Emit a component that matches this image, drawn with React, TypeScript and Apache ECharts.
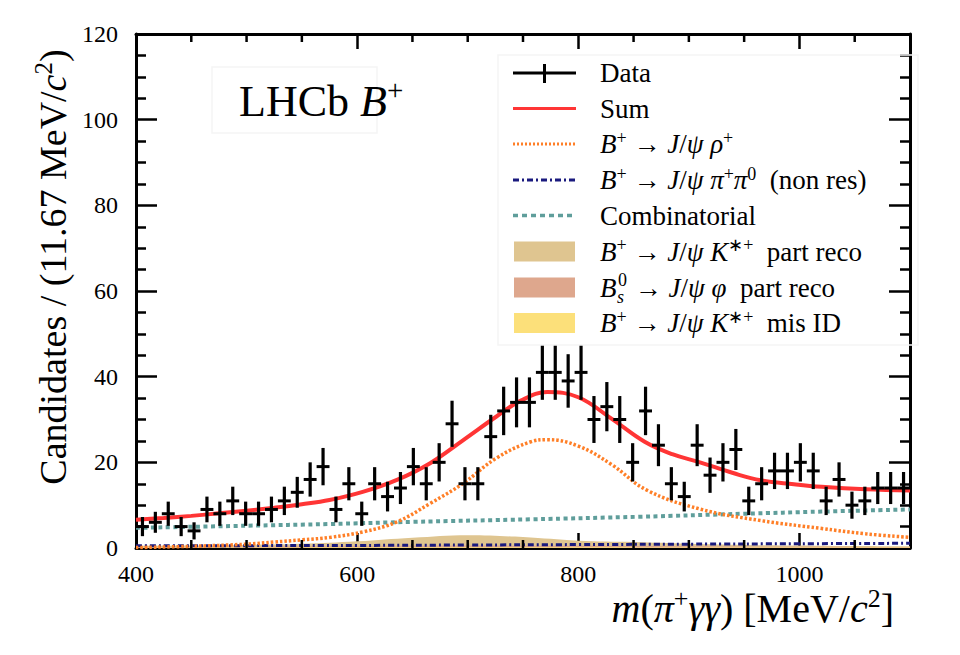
import { useEffect, useRef } from "react";
import * as echarts from "echarts";

// ---------------- data ----------------
const MASS_MIN = 400;
const MASS_MAX = 1100;
const N_BINS = 60;
const BIN_W = (MASS_MAX - MASS_MIN) / N_BINS; // 11.67 MeV
const Y_MIN = 0;
const Y_MAX = 120;

const X_MINOR_TICKS = [450, 500, 550, 650, 700, 750, 850, 900, 950, 1050];

const counts = [
  5, 6, 8, 5, 4, 9, 8, 11, 8, 8, 9, 11, 13, 16, 19, 9, 15, 8, 15, 12,
  14, 19, 15, 20, 29, 15, 15, 26, 32, 34, 34, 41, 41, 39, 41, 30, 33, 30, 20, 32,
  24, 15, 12, 24, 17, 20, 23, 11, 15, 18, 18, 20, 18, 11, 16, 10, 11, 14, 14, 14,
];

const sumCurve = [
  [400, 6.6], [425, 7.0], [450, 7.5], [475, 8.1], [500, 8.7], [525, 9.4], [550, 10.2],
  [575, 11.2], [605, 13.1], [636, 15.9], [666, 19.8], [696, 25.2], [726, 30.7],
  [748, 34.4], [772, 36.4], [800, 35.2], [830, 30.2], [860, 24.8], [885, 21.9],
  [910, 20.0], [940, 17.5], [965, 15.8], [995, 14.9], [1020, 14.3], [1060, 13.7], [1100, 13.4],
];

const rhoCurve = [
  [400, 0.1], [450, 0.4], [500, 0.9], [525, 1.4], [550, 1.9], [576, 2.5], [606, 3.8],
  [636, 6.1], [666, 10.4], [696, 15.1], [726, 21.0], [757, 24.8], [772, 25.3],
  [800, 23.8], [830, 19.5], [862, 13.5], [910, 9.1], [965, 6.4], [1019, 4.6],
  [1060, 3.3], [1100, 2.5],
];

const nonResCurve = [
  [400, 0.5], [500, 0.55], [600, 0.6], [700, 0.7], [800, 0.8], [900, 0.9], [1000, 1.0], [1100, 1.1],
];

const combCurve = [
  [400, 4.7], [500, 5.2], [575, 5.6], [650, 6.1], [757, 6.7], [856, 7.3], [950, 8.0],
  [1020, 8.5], [1100, 9.0],
];

// cumulative tops of the filled background components
const FILL_MASS = [400, 450, 500, 550, 600, 650, 700, 750, 800, 850, 900, 950, 1000, 1050, 1100];
const kstPartTop = [0.5, 0.57, 0.72, 0.97, 1.55, 2.4, 3.0, 2.55, 1.7, 1.4, 1.0, 0.72, 0.6, 0.46, 0.4];
const bsPartTop = [0.3, 0.32, 0.37, 0.42, 0.45, 0.5, 0.56, 0.53, 0.5, 0.44, 0.38, 0.32, 0.29, 0.26, 0.25];
const misIdTop = [0.1, 0.1, 0.12, 0.14, 0.15, 0.15, 0.16, 0.15, 0.15, 0.14, 0.13, 0.12, 0.11, 0.1, 0.1];

// ---------------- styles ----------------
const SERIF = "Liberation Serif";
const C_RED = "#ff3535";
const C_ORANGE = "#ff7f27";
const C_NAVY = "#1a1a7e";
const C_TEAL = "#5f9e9b";
const C_TAN = "#dfc590";
const C_SALMON = "#dea78d";
const C_YELLOW = "#fce07a";

function richSet(size: number) {
  const sup = Math.round(size * 0.66);
  const lh = Math.round(size * 1.15);
  return {
    r: { fontFamily: SERIF, fontSize: size, lineHeight: lh, color: "#000" },
    i: { fontFamily: SERIF, fontSize: size, lineHeight: lh, fontStyle: "italic", color: "#000" },
    sup: { fontFamily: SERIF, fontSize: sup, lineHeight: sup, verticalAlign: "top", color: "#000" },
  };
}

const LEG_ROWS = [73, 108.5, 144, 180, 215.5, 251.5, 287.5, 323];
const LEG_TEXTS = [
  "{r|Data}",
  "{r|Sum}",
  "{i|B}{sup|+}{r| → }{i|J}{r|/}{i|ψ ρ}{sup|+}",
  "{i|B}{sup|+}{r| → }{i|J}{r|/}{i|ψ π}{sup|+}{i|π}{sup|0}{r|  (non res)}",
  "{r|Combinatorial}",
  "{i|B}{sup|+}{r| → }{i|J}{r|/}{i|ψ K}{sup|∗+}{r|  part reco}",
  "",
  "{i|B}{sup|+}{r| → }{i|J}{r|/}{i|ψ K}{sup|∗+}{r|  mis ID}",
];

export default function App() {
  const ref = useRef<HTMLDivElement>(null);

  useEffect(() => {
    if (!ref.current) return;
    const chart = echarts.init(ref.current, undefined, { renderer: "svg" });

    const dataPoints = counts.map((c, i) => [MASS_MIN + (i + 0.5) * BIN_W, c, Math.sqrt(c)]);
    const legRich = richSet(27);
    const Z = 100;

    const legendGraphics: any[] = [
      { type: "rect", z: Z, shape: { x: 498, y: 55, width: 420, height: 290 }, style: { fill: "none", stroke: "#f5f5f5", lineWidth: 1.5 }, silent: true },
      { type: "rect", z: Z, shape: { x: 212, y: 67, width: 165, height: 66 }, style: { fill: "none", stroke: "#f5f5f5", lineWidth: 1.5 }, silent: true },
      { type: "line", z: Z, shape: { x1: 513, y1: LEG_ROWS[0], x2: 576, y2: LEG_ROWS[0] }, style: { stroke: "#000", lineWidth: 3 } },
      { type: "line", z: Z, shape: { x1: 544.5, y1: LEG_ROWS[0] - 9, x2: 544.5, y2: LEG_ROWS[0] + 10 }, style: { stroke: "#000", lineWidth: 3 } },
      { type: "line", z: Z, shape: { x1: 513, y1: LEG_ROWS[1], x2: 576, y2: LEG_ROWS[1] }, style: { stroke: C_RED, lineWidth: 3 } },
      { type: "line", z: Z, shape: { x1: 513, y1: LEG_ROWS[2], x2: 576, y2: LEG_ROWS[2] }, style: { stroke: C_ORANGE, lineWidth: 3, lineDash: [2, 2] } },
      { type: "line", z: Z, shape: { x1: 513, y1: LEG_ROWS[3], x2: 576, y2: LEG_ROWS[3] }, style: { stroke: C_NAVY, lineWidth: 3, lineDash: [6, 3, 2, 3] } },
      { type: "line", z: Z, shape: { x1: 513, y1: LEG_ROWS[4], x2: 576, y2: LEG_ROWS[4] }, style: { stroke: C_TEAL, lineWidth: 3.5, lineDash: [5, 4] } },
      { type: "rect", z: Z, shape: { x: 514, y: LEG_ROWS[5] - 10, width: 61, height: 20 }, style: { fill: C_TAN } },
      { type: "rect", z: Z, shape: { x: 514, y: LEG_ROWS[6] - 10, width: 61, height: 20 }, style: { fill: C_SALMON } },
      { type: "rect", z: Z, shape: { x: 514, y: LEG_ROWS[7] - 10, width: 61, height: 20 }, style: { fill: C_YELLOW } },
    ];
    LEG_TEXTS.forEach((t, k) => {
      if (!t) return;
      legendGraphics.push({
        type: "text", z: Z,
        x: 600,
        y: LEG_ROWS[k],
        style: { text: t, rich: legRich, align: "left", verticalAlign: "middle", fontFamily: SERIF, fontSize: 27, fill: "#000" },
      });
    });
    // B_s^0 -> J/psi phi part reco, with stacked super/subscript
    const yBs = LEG_ROWS[6];
    legendGraphics.push(
      { type: "text", z: Z, x: 600, y: yBs, style: { text: "B", fontFamily: SERIF, fontStyle: "italic", fontSize: 27, fill: "#000", align: "left", verticalAlign: "middle" } },
      { type: "text", z: Z, x: 618, y: yBs - 8, style: { text: "0", fontFamily: SERIF, fontSize: 18, lineHeight: 16, fill: "#000", align: "left", verticalAlign: "middle" } },
      { type: "text", z: Z, x: 617, y: yBs + 9, style: { text: "s", fontFamily: SERIF, fontStyle: "italic", fontSize: 18, lineHeight: 16, fill: "#000", align: "left", verticalAlign: "middle" } },
      { type: "text", z: Z, x: 628, y: yBs, style: { text: "{r| → }{i|J}{r|/}{i|ψ φ}{r|  part reco}", rich: legRich, align: "left", verticalAlign: "middle", fontFamily: SERIF, fontSize: 27, fill: "#000" } },
    );

    const xTitleRich = richSet(40);
    const yTitleRich = richSet(38);
    const lhcbRich = richSet(44);

    const xAxisBase = {
      type: "value", min: MASS_MIN, max: MASS_MAX, interval: 200,
      axisLine: { show: true, onZero: false, lineStyle: { color: "#000", width: 3 } },
      axisTick: { show: true, inside: true, length: 15, lineStyle: { color: "#000", width: 2.5 } },
      minorTick: { show: false },
      splitLine: { show: false },
    };
    const yAxisBase = {
      type: "value", min: Y_MIN, max: Y_MAX, interval: 20,
      axisLine: { show: true, onZero: false, lineStyle: { color: "#000", width: 3 } },
      axisTick: { show: true, inside: true, length: 21, lineStyle: { color: "#000", width: 2.5 } },
      minorTick: { show: true, splitNumber: 4, length: 10, lineStyle: { color: "#000", width: 2.5 } },
      splitLine: { show: false },
    };

    const areaSeries = (name: string, tops: number[], color: string) => ({
      name, type: "line", smooth: 0.4, showSymbol: false, z: 1,
      data: FILL_MASS.map((m, i) => [m, tops[i]]),
      lineStyle: { width: 0, opacity: 0 },
      areaStyle: { color, opacity: 1, origin: "start" },
    });

    const option: any = {
      animation: false,
      backgroundColor: "#fff",
      grid: { left: 136, right: 50, top: 34, bottom: 107, containLabel: false },
      xAxis: [
        {
          ...xAxisBase, position: "bottom",
          axisLabel: { color: "#000", fontSize: 24, fontFamily: SERIF, margin: 14, showMaxLabel: false, formatter: (v: number) => String(v) },
        },
        { ...xAxisBase, position: "top", axisLabel: { show: false } },
      ],
      yAxis: [
        {
          ...yAxisBase, position: "left",
          axisLabel: { color: "#000", fontSize: 24, fontFamily: SERIF, margin: 18, formatter: (v: number) => String(v) },
        },
        { ...yAxisBase, position: "right", axisLabel: { show: false } },
      ],
      series: [
        areaSeries("B+ -> J/psi K*+ part reco", kstPartTop, C_TAN),
        areaSeries("Bs0 -> J/psi phi part reco", bsPartTop, C_SALMON),
        areaSeries("B+ -> J/psi K*+ mis ID", misIdTop, C_YELLOW),
        {
          name: "non res", type: "line", smooth: 0.4, showSymbol: false, z: 3, data: nonResCurve,
          lineStyle: { color: C_NAVY, width: 3, type: [6, 3, 2, 3] },
        },
        {
          name: "Combinatorial", type: "line", smooth: 0.4, showSymbol: false, z: 4, data: combCurve,
          lineStyle: { color: C_TEAL, width: 4, type: [4, 3.5] },
        },
        {
          name: "rho", type: "line", smooth: 0.4, showSymbol: false, z: 5, data: rhoCurve,
          lineStyle: { color: C_ORANGE, width: 3.5, type: [2.5, 2] },
        },
        {
          name: "Sum", type: "line", smooth: 0.4, showSymbol: false, z: 6, data: sumCurve,
          lineStyle: { color: C_RED, width: 4 },
        },
        {
          name: "Data", type: "custom", z: 10, data: dataPoints,
          renderItem: (_p: any, api: any) => {
            const x = api.value(0), y = api.value(1), e = api.value(2);
            const l = api.coord([x - BIN_W / 2, y]);
            const r = api.coord([x + BIN_W / 2, y]);
            const t = api.coord([x, y + e]);
            const b = api.coord([x, Math.max(Y_MIN, y - e)]);
            return {
              type: "group",
              children: [
                { type: "line", shape: { x1: l[0], y1: l[1], x2: r[0], y2: r[1] }, style: { stroke: "#000", lineWidth: 3 } },
                { type: "line", shape: { x1: t[0], y1: t[1], x2: b[0], y2: b[1] }, style: { stroke: "#000", lineWidth: 3.2 } },
              ],
            };
          },
        },
        {
          name: "xMinorTicks", type: "custom", z: 11, silent: true,
          data: X_MINOR_TICKS.map((v) => [v, Y_MIN]),
          renderItem: (_p: any, api: any) => {
            const v = api.value(0);
            const b = api.coord([v, Y_MIN]);
            const t = api.coord([v, Y_MAX]);
            return {
              type: "group",
              children: [
                { type: "line", shape: { x1: b[0], y1: b[1], x2: b[0], y2: b[1] - 8 }, style: { stroke: "#000", lineWidth: 2.5 } },
                { type: "line", shape: { x1: t[0], y1: t[1], x2: t[0], y2: t[1] + 8 }, style: { stroke: "#000", lineWidth: 2.5 } },
              ],
            };
          },
        },
      ],
      graphic: [
        ...legendGraphics,
        {
          type: "text", z: Z, x: 239, y: 101,
          style: { text: "{r|LHCb }{i|B}{sup|+}", rich: lhcbRich, align: "left", verticalAlign: "middle", fontFamily: SERIF, fontSize: 44 },
        },
        {
          type: "text", z: Z, x: 894, y: 608,
          style: { text: "{i|m}{r|(}{i|π}{sup|+}{i|γγ}{r|) [MeV/}{i|c}{sup|2}{r|]}", rich: xTitleRich, align: "right", verticalAlign: "middle", fontFamily: SERIF, fontSize: 40 },
        },
        {
          type: "text", z: Z, x: 53, y: 267, rotation: Math.PI / 2,
          style: { text: "{r|Candidates / (11.67 MeV/}{i|c}{sup|2}{r|)}", rich: yTitleRich, align: "center", verticalAlign: "middle", fontFamily: SERIF, fontSize: 38 },
        },
      ],
    };

    chart.setOption(option);
    return () => chart.dispose();
  }, []);

  return (
    <div
      ref={ref}
      style={{ position: "absolute", left: 0, top: 0, width: 960, height: 655, background: "#fff" }}
    />
  );
}
